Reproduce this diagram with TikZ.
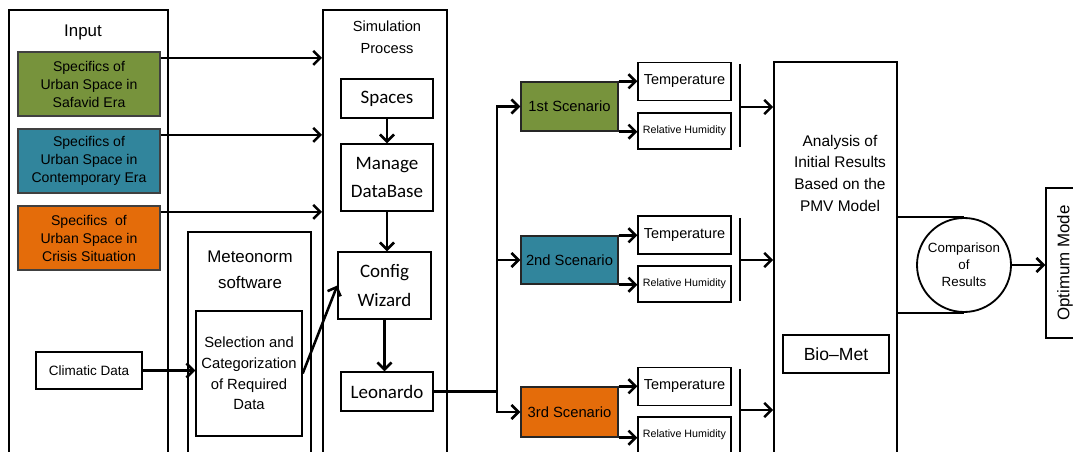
\documentclass[tikz,border=0pt]{standalone}
\usepackage{fontspec}
\setmainfont{Liberation Sans}
\newfontfamily\calfont{Carlito}
\usetikzlibrary{arrows.meta}
\definecolor{safavid}{HTML}{77933C}
\definecolor{contemp}{HTML}{31859C}
\definecolor{crisis}{HTML}{E46C0A}

\begin{document}
\begin{tikzpicture}[x=0.025cm, y=-0.025cm]
    \tikzset{
        dims/.style 2 args={minimum width=#1*0.025cm, minimum height=#2*0.025cm, inner sep=0pt},
        frame/.style={draw, line width=1.3pt},
        box/.style={draw, line width=1pt, align=center},
        era/.style={draw=black!75, line width=1pt, fill=#1, align=center, font={\fontsize{10}{12.8}\selectfont}},
        scen/.style={draw=black!85, line width=1pt, fill=#1, font={\fontsize{10.5}{12}\selectfont}},
        calbox/.style={box, font={\calfont\fontsize{13.5}{20.5}\selectfont}},
        txt/.style={align=center, inner sep=0pt},
        arr/.style={line width=1.8pt, -{Straight Barb[length=5pt, width=10pt]}},
        link/.style={line width=1.8pt},
    }
    \useasboundingbox (0,0) rectangle (1073,452);

    % Frames
    \node[frame, dims={159}{460}] (input) at (88.5,240) {};
    \node[frame, dims={123}{238}] (meteo) at (249.5,351) {};
    \node[frame, dims={124}{460}] (sim) at (385,240) {};
    \node[frame, dims={123}{408}] (ana) at (835.5,266) {};
    \node[txt, font={\fontsize{12}{14}\selectfont}] (inputlbl) at (83,32) {Input};
    \node[txt, font={\fontsize{12}{18.5}\selectfont}] (meteolbl) at (250,270) {Meteonorm\\software};
    \node[txt, font={\fontsize{10.4}{15.4}\selectfont}] (simlbl) at (387,37.5) {Simulation\\Process};
    \node[txt, font={\fontsize{11}{15.4}\selectfont}] (analbl) at (840,173) {Analysis of\\Initial Results\\Based on the\\PMV Model};

    % Inputs
    \node[era=safavid, dims={142}{64}] (inA) at (89,84) {Specifics of\\Urban Space in\\Safavid Era};
    \node[era=contemp, dims={142}{64}] (inB) at (89,161) {Specifics of\\Urban Space in\\Contemporary Era};
    \node[era=crisis, dims={142}{64}] (inC) at (89,238) {Specifics\ \ of\\Urban Space in\\Crisis Situation};
    \node[box, dims={106}{37}, font={\fontsize{9.6}{11}\selectfont}] (clim) at (89,370.5) {Climatic Data};
    \node[box, dims={106}{125}, font={\fontsize{10.5}{14.7}\selectfont}] (sel) at (249,373.5) {Selection and\\Categorization\\of Required\\Data};

    % Simulation steps
    \node[calbox, dims={92}{39}] (spaces) at (387,98.5) {Spaces};
    \node[calbox, dims={92}{67}] (manage) at (387,177.5) {Manage\\DataBase};
    \node[calbox, dims={93}{67}] (config) at (384.5,285.5) {Config\\Wizard};
    \node[calbox, dims={92}{39}] (leo) at (387,391.5) {Leonardo};
    \coordinate (split) at (497,391.5);

    % Scenarios
    \node[scen=safavid, dims={97}{49}] (sc1) at (569.5,106.5) {1st Scenario};
    \node[scen=contemp, dims={97}{48}] (sc2) at (569.5,260) {2nd Scenario};
    \node[scen=crisis, dims={97}{50}] (sc3) at (569.5,412) {3rd Scenario};
    \foreach \i/\ty/\hy in {1/81.5/131, 2/235/284, 3/386.5/435} {
        \node[box, dims={93}{38}, font={\fontsize{10.3}{12}\selectfont}] (t\i) at (684.5,\ty) {Temperature};
        \node[box, dims={93}{36}, font={\fontsize{7.6}{9}\selectfont}] (h\i) at (684.5,\hy) {Relative Humidity};
    }
    \coordinate (bar1) at (740,107);
    \coordinate (bar2) at (740,260);
    \coordinate (bar3) at (740,410);

    % Results
    \node[box, dims={106}{38}, font={\fontsize{12.5}{14}\selectfont}] (bio) at (836,354) {Bio--Met};
    \node[draw, circle, line width=1.3pt, minimum size=94*0.025cm, inner sep=0pt, align=center,
          font={\fontsize{9.5}{12}\selectfont}] (comp) at (964,265) {Comparison\\of\\Results};
    \node[box, dims={44}{150}] (opt) at (1068,263) {};
    \node[txt, rotate=90, font={\fontsize{12}{14}\selectfont}] (optlbl) at (1065,263) {Optimum Mode};

    % Arrows
    \draw[arr] (inA.20) -- (inA.20 -| sim.west);
    \draw[arr] (inB.20) -- (inB.20 -| sim.west);
    \draw[arr] (inC.20) -- (inC.20 -| sim.west);
    \draw[arr] (clim.east) -- (clim.east -| sel.west);
    \draw[arr] (sel.east) -- (config.west);
    \draw[arr] (spaces.south) -- (manage.north);
    \draw[arr] (manage.south) -- (manage.south |- config.north);
    \draw[arr] (config.south) -- (config.south |- leo.north);
    \draw[link] (leo.east) -- (split);
    \draw[arr] (split) |- (sc1.west);
    \draw[arr] (split) |- (sc3.west);
    \draw[arr] (split |- sc2.west) -- (sc2.west);
    \foreach \i in {1,2,3} {
        \draw[arr] (sc\i.north east) -- (sc\i.north east -| t\i.west);
        \draw[arr] (sc\i.south east) -- (sc\i.south east -| h\i.west);
        \draw[arr] (bar\i) -- (bar\i -| ana.west);
    }
    \draw[line width=1.5pt] (740,64) -- (740,147);
    \draw[line width=1.5pt] (740,218) -- (740,301);
    \draw[line width=1.5pt] (740,369) -- (740,470);
    \draw[line width=1.3pt] (ana.east |- comp.north) -- (comp.north);
    \draw[line width=1.3pt] (ana.east |- comp.south) -- (comp.south);
    \draw[arr] (comp.east) -- (comp.east -| opt.west);
\end{tikzpicture}
\end{document}
